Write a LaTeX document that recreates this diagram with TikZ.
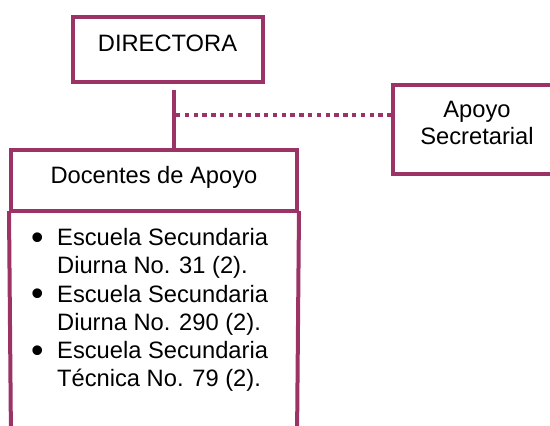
\documentclass[tikz,border=0pt]{standalone}
\usepackage{fontspec}
\setmainfont{Liberation Sans}
\definecolor{plum}{RGB}{155,51,103}
\newcommand{\lbul}{\makebox[26pt][l]{\raisebox{-3.8pt}{\scalebox{1.5}{\textbullet}}}}
\begin{document}
\begin{tikzpicture}[x=1pt,y=-1pt,
 box/.style={draw=plum,line width=4pt,rectangle,inner sep=0pt},
 txt/.style={inner sep=0pt,font=\fontsize{23.7}{28.2}\selectfont,anchor=base,text=black},
 conn/.style={draw=plum,line width=4pt},
 dotconn/.style={draw=plum,line width=4pt,dash pattern=on 4.4pt off 4.4pt}]
\useasboundingbox (0,0) rectangle (550,426);
\clip (0,0) rectangle (550,426);
% boxes
\node[box,minimum width=189.5pt,minimum height=65pt] (dir) at (167.75,49.5) {};
\node[box,minimum width=286pt,minimum height=61.3pt] (doc) at (154,180.35) {};
\node[box,minimum width=227.3pt,minimum height=89.3pt] (apoyo) at (506.35,129.35) {};
% texts
\node[txt] (dirtext) at (167.5,51) {DIRECTORA};
\node[txt] (doctext) at (154,183.3) {Docentes de Apoyo};
\node[txt] (apoyo1) at (477,117.3) {Apoyo};
\node[txt] (apoyo2) at (477,144) {Secretarial};
\node[txt,anchor=base west] (list) at (31,245.7) {\begin{tabular}[t]{@{}l@{}l@{}}
\lbul & Escuela Secundaria\\
 & Diurna No. 31 (2).\\
\lbul & Escuela Secundaria\\
 & Diurna No. 290 (2).\\
\lbul & Escuela Secundaria\\
 & Técnica No. 79 (2).
\end{tabular}};
% open lower part of the Docentes box
\coordinate (bl) at (11,440);
\coordinate (br) at (297,440);
\draw[conn] ([yshift=2pt]doc.south west) -- (bl);
\draw[conn] ([yshift=2pt]doc.south east) -- (br);
% connectors
\coordinate (j) at (174,114.5);
\draw[conn] ([yshift=-6pt]dir.south -| j) -- (j |- doc.north);
\draw[dotconn] ([xshift=2pt]j) -- (j -| apoyo.west);
\end{tikzpicture}
\end{document}
